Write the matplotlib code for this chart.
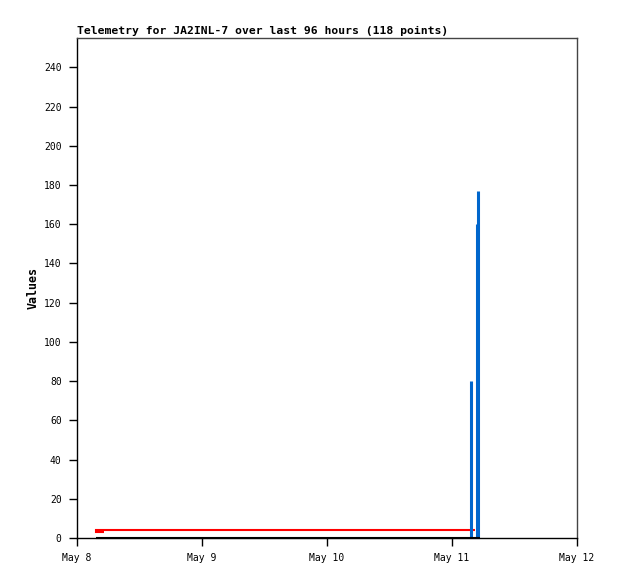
import datetime as dt
import matplotlib
matplotlib.use("Agg")
import matplotlib.pyplot as plt

# data (year is irrelevant, only May dates show)
red_times = ["2024-05-08 05:11", "2024-05-08 03:39", "2024-05-08 03:39",
             "2024-05-08 05:11", "2024-05-11 04:25"]
red_values = [3, 3, 4, 4, 4]

black_times = ["2024-05-08 03:39", "2024-05-11 05:23"]
black_values = [0, 0]

blue_times = ["2024-05-11 03:42", "2024-05-11 04:51", "2024-05-11 05:02"]
blue_values = [80, 160, 177]

title = "Telemetry for JA2INL-7 over last 96 hours (118 points)"
x_ticks = ["2024-05-08", "2024-05-09", "2024-05-10", "2024-05-11", "2024-05-12"]
x_ticklabels = ["May 8", "May 9", "May 10", "May 11", "May 12"]
y_ticks = list(range(0, 241, 20))


def parse(ts):
    out = []
    for t in ts:
        fmt = "%Y-%m-%d %H:%M" if " " in t else "%Y-%m-%d"
        out.append(dt.datetime.strptime(t, fmt))
    return out


plt.rcParams["font.family"] = "DejaVu Sans Mono"

fig = plt.figure(figsize=(6.18, 5.79), dpi=100)
ax = fig.add_axes([77 / 618, 41 / 579, 500 / 618, 500 / 579])

ax.plot(parse(black_times), black_values, color="black", lw=1.5,
        solid_capstyle="butt", zorder=3, clip_on=False)
ax.plot(parse(red_times), red_values, color="#ff0000", lw=1.5,
        solid_capstyle="butt", solid_joinstyle="miter", zorder=2)
ax.vlines(parse(blue_times), 0, blue_values, color="#0066cc", lw=2.2, zorder=2)

xt = parse(x_ticks)
ax.set_xlim(xt[0], xt[-1])
ax.set_ylim(0, 255)
ax.set_xticks(xt)
ax.set_xticklabels(x_ticklabels)
ax.set_yticks(y_ticks)

ax.tick_params(direction="out", length=6, width=1, labelsize=7, pad=5, colors="black")
for side in ("left", "bottom"):
    ax.spines[side].set_color("black")
    ax.spines[side].set_linewidth(1)
for side in ("right", "top"):
    ax.spines[side].set_color("#444444")
    ax.spines[side].set_linewidth(1)

ax.set_ylabel("Values", fontsize=8.4, fontweight="bold", labelpad=3)
ax.set_title(title, fontsize=8.2, fontweight="bold", loc="left", pad=3)

fig.savefig("out.png", dpi=100)
